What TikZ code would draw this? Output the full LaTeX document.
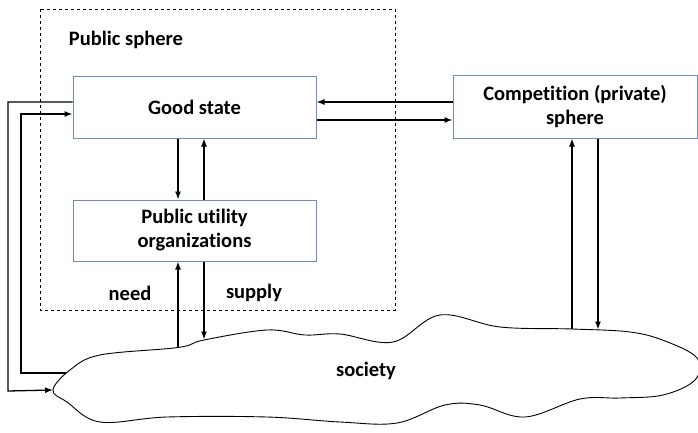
\documentclass[tikz,border=0pt]{standalone}
\usepackage{fontspec}
\setmainfont{Carlito}[RawFeature=-liga]
\usetikzlibrary{arrows.meta}
\definecolor{boxblue}{RGB}{110,140,190}
\begin{document}
\begin{tikzpicture}[x=1pt,y=-1pt,
  every node/.style={font=\fontsize{20.5}{24}\selectfont\bfseries, align=center},
  blk/.style={draw=boxblue, line width=1pt, fill=white, minimum width=243pt, minimum height=61pt, inner sep=0pt},
  conn/.style={line width=1.3pt, -{Latex[length=8pt,width=6pt]}},
  plainline/.style={line width=1.3pt}]
\useasboundingbox (0,0) rectangle (698,433);
% dashed public sphere
\draw[dashed, line width=0.8pt] (40,9) rectangle (395,310);
\node (ps) at (126,40) {Public sphere};
% boxes
\node[blk] (gs) at (194.5,107.5) {Good state};
\node[blk, minimum width=244pt, minimum height=62pt] (cp) at (575,107) {Competition (private)\\sphere};
\node[blk] (pu) at (194.5,230.5) {Public utility\\organizations};
% cloud
\draw[line width=0.9pt, fill=white] plot[smooth cycle, tension=0.6] coordinates {
 (53,390) (70,370) (100,355) (178,347.5) (204,340) (267,330) (305,335) (340,334)
 (393,342) (440,315) (500,327) (572,329) (630,332) (665,341) (697,358)
 (695,380) (663,395) (620,398) (580,399) (525,417) (480,405) (445,405) (397,423) (340,422)
 (267,417) (167,417) (100,422) (67,402)};
\node (soc) at (366,371) {society};
\coordinate (cneed) at (178,347.5);
\coordinate (csup) at (204,339.5);
\coordinate (ccpu) at (572,329);
\coordinate (ccpd) at (598,329.5);
\coordinate (cleftin) at (53,390);
\coordinate (cleftout) at (66,373);
% labels
\node (need) at (130,293) {need};
\node (supply) at (254,293) {supply};
% arrows between good state and competition
\draw[conn] (cp.west |- 0,102) -- (gs.east |- 0,102);
\draw[conn] (gs.east |- 0,120) -- (cp.west |- 0,120);
% good state <-> public utility
\draw[conn] (gs.south -| 178,0) -- (pu.north -| 178,0);
\draw[conn] (pu.north -| 204,0) -- (gs.south -| 204,0);
% public utility <-> society
\draw[conn] (cneed) -- (pu.south -| cneed);
\draw[conn] (pu.south -| csup) -- (csup);
% competition <-> society
\draw[conn] (ccpu) -- (cp.south -| ccpu);
\draw[conn] (cp.south -| ccpd) -- (ccpd);
% left loops
\draw[conn] (gs.west |- 0,102) -- (8,102) -- (8,391) -- (cleftin);
\draw[conn] (cleftout) -- (21,373) -- (21,114) -- (gs.west |- 0,114);
\end{tikzpicture}
\end{document}
